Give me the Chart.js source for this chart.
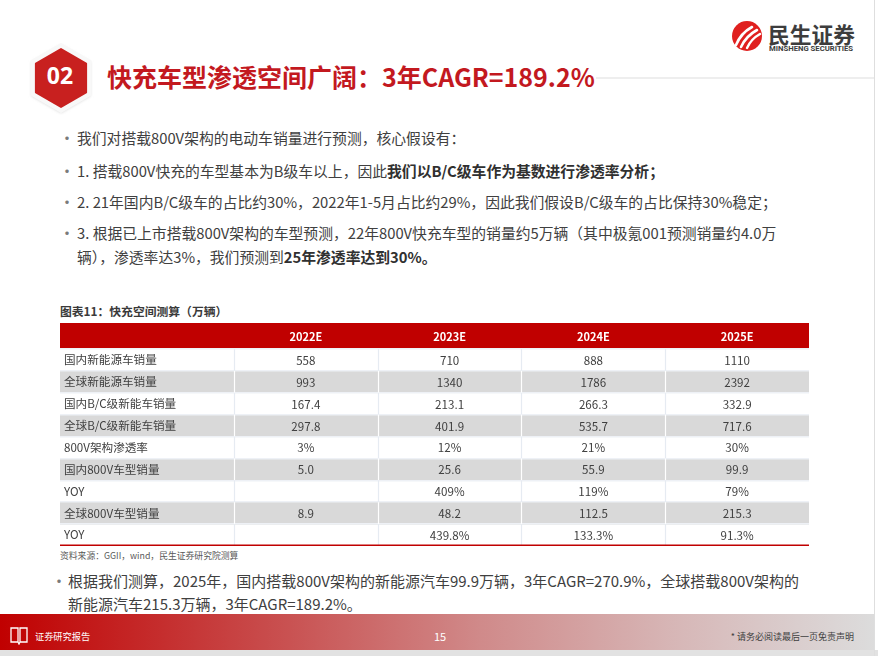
<!DOCTYPE html>
<html lang="zh-CN">
<head>
<meta charset="utf-8">
<title>快充空间测算</title>
<script src="https://cdn.jsdelivr.net/npm/chart.js@4.4.1/dist/chart.umd.min.js"></script>
<style>
  html, body { margin: 0; padding: 0; background: #fff; }
  body {
    width: 878px; height: 656px; position: relative; overflow: hidden;
    font-family: "Noto Sans CJK SC", "Noto Sans", sans-serif; color: #404040;
  }
  .abs { position: absolute; white-space: nowrap; }
  .title { left: 107px; top: 60px; font-size: 25px; line-height: 32px; font-weight: bold; color: #c3191f; }
  .rule { left: 596px; top: 77px; width: 278px; height: 2px; background: #eeeeee; }
  .bullet { left: 59px; font-size: 14.8px; line-height: 20px; color: #404040; }
  .dot { position: absolute; left: 0; top: -1px; font-size: 16px; color: #7a7a7a; }
  .bullet .txt { position: absolute; left: 18px; top: 0; }
  .bullet b { color: #303030; }
  .caption { left: 60px; top: 302px; font-size: 11.8px; line-height: 18px; font-weight: bold; color: #3a3a3a; }
  .source { left: 60px; top: 550px; font-size: 8.8px; line-height: 12px; color: #595959; }
  .tail { left: 51px; font-size: 15px; line-height: 20px; color: #404040; }
  .tail .txt { position: absolute; left: 17px; top: 0; }
  #tableChart { position: absolute; left: 60px; top: 323px; width: 749px; height: 223px; }
  .footer {
    position: absolute; left: 0; top: 614px; width: 874px; height: 36px;
    background: linear-gradient(to right, #c00000 0%, #c84a4a 30%, #d08a8a 55%, #d7b8b8 78%, #dcdcdc 100%);
  }
  .under { position: absolute; left: 0; top: 650px; width: 878px; height: 6px; background: #e2e2e2; }
  .edge { position: absolute; left: 874px; top: 0; width: 1px; height: 656px; background: #dedede; }
  .foot-l { left: 35px; top: 629px; font-size: 9.2px; line-height: 14px; color: #fff; }
  .foot-c { left: 434px; top: 629px; font-size: 11px; line-height: 14px; color: #fff; }
  .foot-r { right: 24px; top: 630px; font-size: 9px; line-height: 14px; color: #404040; }
</style>
</head>
<body>
<svg class="abs" style="left:0;top:0" width="878" height="120">
  <defs>
    <filter id="sh" x="-30%" y="-30%" width="160%" height="160%">
      <feGaussianBlur stdDeviation="1.5"/>
    </filter>
  </defs>
  <polygon points="61,45 90.4,62 90.4,96 61,113 31.6,96 31.6,62" fill="#d8d8d8" filter="url(#sh)"/>
  <polygon points="61,44 90.4,61 90.4,95 61,112 31.6,95 31.6,61" fill="#f8f8f8" stroke="#f8f8f8" stroke-width="2" stroke-linejoin="round"/>
  <polygon points="61,49 86.1,63.5 86.1,92.5 61,107 35.9,92.5 35.9,63.5" fill="#c8201f" stroke="#c8201f" stroke-width="2" stroke-linejoin="round"/>
  <text x="60" y="84" text-anchor="middle" font-family="Noto Sans, sans-serif" font-weight="bold" font-size="23" fill="#fff">02</text>

  <circle cx="747" cy="36" r="15" fill="#e0201f"/>
  <path d="M736,45 Q741,33 752,27" stroke="#fff" stroke-width="2.6" fill="none" stroke-linecap="round"/>
  <path d="M741,47 Q746,36 757,30" stroke="#fff" stroke-width="2.6" fill="none" stroke-linecap="round"/>
  <path d="M747,48 Q751,39 760,34" stroke="#fff" stroke-width="2.4" fill="none" stroke-linecap="round"/>
  <text x="768" y="43" font-family="Noto Sans CJK SC, sans-serif" font-weight="bold" font-size="21.5" fill="#3d3d3d" textLength="87" lengthAdjust="spacingAndGlyphs">民生证券</text>
  <text x="769" y="51" font-family="Roboto, Noto Sans, sans-serif" font-weight="bold" font-size="7.6" fill="#3d3d3d" textLength="84" lengthAdjust="spacingAndGlyphs">MINSHENG SECURITIES</text>
</svg>

<div class="rule abs"></div>
<div class="title abs">快充车型渗透空间广阔：3年CAGR=189.2%</div>

<div class="bullet abs" style="top:128px"><span class="dot">•</span><span class="txt">我们对搭载800V架构的电动车销量进行预测，核心假设有：</span></div>
<div class="bullet abs" style="top:161px"><span class="dot">•</span><span class="txt">1. 搭载800V快充的车型基本为B级车以上，因此<b>我们以B/C级车作为基数进行渗透率分析；</b></span></div>
<div class="bullet abs" style="top:192px"><span class="dot">•</span><span class="txt">2. 21年国内B/C级车的占比约30%，2022年1-5月占比约29%，因此我们假设B/C级车的占比保持30%稳定；</span></div>
<div class="bullet abs" style="top:223px"><span class="dot">•</span><span class="txt">3. 根据已上市搭载800V架构的车型预测，22年800V快充车型的销量约5万辆（其中极氪001预测销量约4.0万</span></div>
<div class="bullet abs" style="top:247px"><span class="txt">辆），渗透率达3%，我们预测到<b>25年渗透率达到30%。</b></span></div>

<div class="caption abs">图表11：快充空间测算（万辆）</div>
<canvas id="tableChart" width="749" height="223"></canvas>
<div class="source abs">资料来源：GGII，wind，民生证券研究院测算</div>

<div class="tail abs" style="top:571px"><span class="dot">•</span><span class="txt">根据我们测算，2025年，国内搭载800V架构的新能源汽车99.9万辆，3年CAGR=270.9%，全球搭载800V架构的</span></div>
<div class="tail abs" style="top:594px"><span class="txt">新能源汽车215.3万辆，3年CAGR=189.2%。</span></div>

<div class="footer"></div>
<div class="under"></div>
<div class="edge"></div>
<svg class="abs" style="left:9px;top:626px" width="20" height="19">
  <path d="M2,2 L9,2 L9,16 L2,16 Z M11,2 L18,2 L18,16 L11,16 Z M9,16 L10,18 L11,16" stroke="#fff" stroke-width="1.3" fill="none"/>
</svg>
<div class="foot-l abs">证券研究报告</div>
<div class="foot-c abs">15</div>
<div class="foot-r abs">* 请务必阅读最后一页免责声明</div>

<script>
'use strict';

// 表格数据
const rowLabels = [
  '国内新能源车销量', '全球新能源车销量', '国内B/C级新能车销量', '全球B/C级新能车销量',
  '800V架构渗透率', '国内800V车型销量', 'YOY', '全球800V车型销量', 'YOY',
];
const years = ['2022E', '2023E', '2024E', '2025E'];
const values2022 = ['558', '993', '167.4', '297.8', '3%', '5.0', '', '8.9', ''];
const values2023 = ['710', '1340', '213.1', '401.9', '12%', '25.6', '409%', '48.2', '439.8%'];
const values2024 = ['888', '1786', '266.3', '535.7', '21%', '55.9', '119%', '112.5', '133.3%'];
const values2025 = ['1110', '2392', '332.9', '717.6', '30%', '99.9', '79%', '215.3', '91.3%'];
const valueColumns = [values2022, values2023, values2024, values2025];

// 第一列宽度（以年份列宽为单位）
const LABEL_COL = 1.21;
const X_MAX = LABEL_COL + years.length;
const isShaded = i => i % 2 === 1;

Chart.defaults.font.family = '"Noto Sans CJK SC", "Noto Sans", sans-serif';

// 表头底色、单元格文字、分隔线
const tableCells = {
  id: 'tableCells',
  beforeDraw(chart) {
    const { ctx, scales: { x } } = chart;
    ctx.save();
    ctx.fillStyle = '#c00000';
    ctx.fillRect(x.left, x.top, x.right - x.left, x.bottom - x.top);
    ctx.restore();
  },
  afterDraw(chart) {
    const { ctx, chartArea, scales: { x, y } } = chart;
    const h = (chartArea.bottom - chartArea.top) / rowLabels.length;
    ctx.save();
    ctx.lineWidth = 1.2;
    rowLabels.forEach((_, r) => {
      const cy = y.getPixelForValue(r);
      ctx.strokeStyle = isShaded(r) ? '#ffffff' : '#e6ebf2';
      for (let i = 0; i < years.length; i++) {
        const px = Math.round(x.getPixelForValue(LABEL_COL + i)) + 0.5;
        ctx.beginPath();
        ctx.moveTo(px, cy - h / 2);
        ctx.lineTo(px, cy + h / 2);
        ctx.stroke();
      }
    });

    ctx.font = '11.6px "Noto Sans CJK SC", "Noto Sans", sans-serif';
    ctx.fillStyle = '#404040';
    ctx.textAlign = 'center';
    ctx.textBaseline = 'middle';
    valueColumns.forEach((col, i) => {
      const cx = x.getPixelForValue(LABEL_COL + i + 0.5);
      col.forEach((v, r) => ctx.fillText(v, cx, y.getPixelForValue(r) + 0.5));
    });

    ctx.strokeStyle = '#c00000';
    ctx.lineWidth = 1.6;
    ctx.beginPath();
    ctx.moveTo(chartArea.left, chartArea.bottom - 0.8);
    ctx.lineTo(chartArea.right, chartArea.bottom - 0.8);
    ctx.stroke();
    ctx.restore();
  },
};

new Chart(document.getElementById('tableChart'), {
  type: 'bar',
  data: {
    labels: rowLabels,
    datasets: [
      {
        label: 'shade',
        data: rowLabels.map((_, i) => (isShaded(i) ? [0, X_MAX] : null)),
        backgroundColor: '#d9d9d9',
        borderWidth: 0,
        barPercentage: 1,
        categoryPercentage: 1,
      },
    ],
  },
  options: {
    indexAxis: 'y',
    responsive: false,
    animation: false,
    layout: { padding: 0 },
    plugins: { legend: { display: false }, tooltip: { enabled: false } },
    scales: {
      x: {
        type: 'linear',
        position: 'top',
        min: 0,
        max: X_MAX,
        grid: { display: false, drawTicks: false },
        border: { display: false },
        afterBuildTicks: axis => {
          axis.ticks = years.map((_, i) => ({ value: LABEL_COL + i + 0.5 }));
        },
        afterFit: axis => {
          axis.height = 26;
          axis.paddingLeft = 0;
          axis.paddingRight = 0;
        },
        ticks: {
          autoSkip: false,
          maxRotation: 0,
          padding: 6,
          color: '#ffffff',
          font: { size: 11, weight: 'bold' },
          callback: (value, index) => years[index],
        },
      },
      y: {
        type: 'category',
        grid: { display: true, offset: true, color: '#eef1f6', lineWidth: 1.5, drawTicks: false, z: 1 },
        border: { display: false },
        afterFit: axis => {
          axis.width = 0;
          axis.paddingTop = 0;
          axis.paddingBottom = 0;
        },
        ticks: {
          z: 1,
          autoSkip: false,
          mirror: true,
          padding: 4,
          color: '#404040',
          font: { size: 11.6 },
        },
      },
    },
  },
  plugins: [tableCells],
});
</script>
</body>
</html>
